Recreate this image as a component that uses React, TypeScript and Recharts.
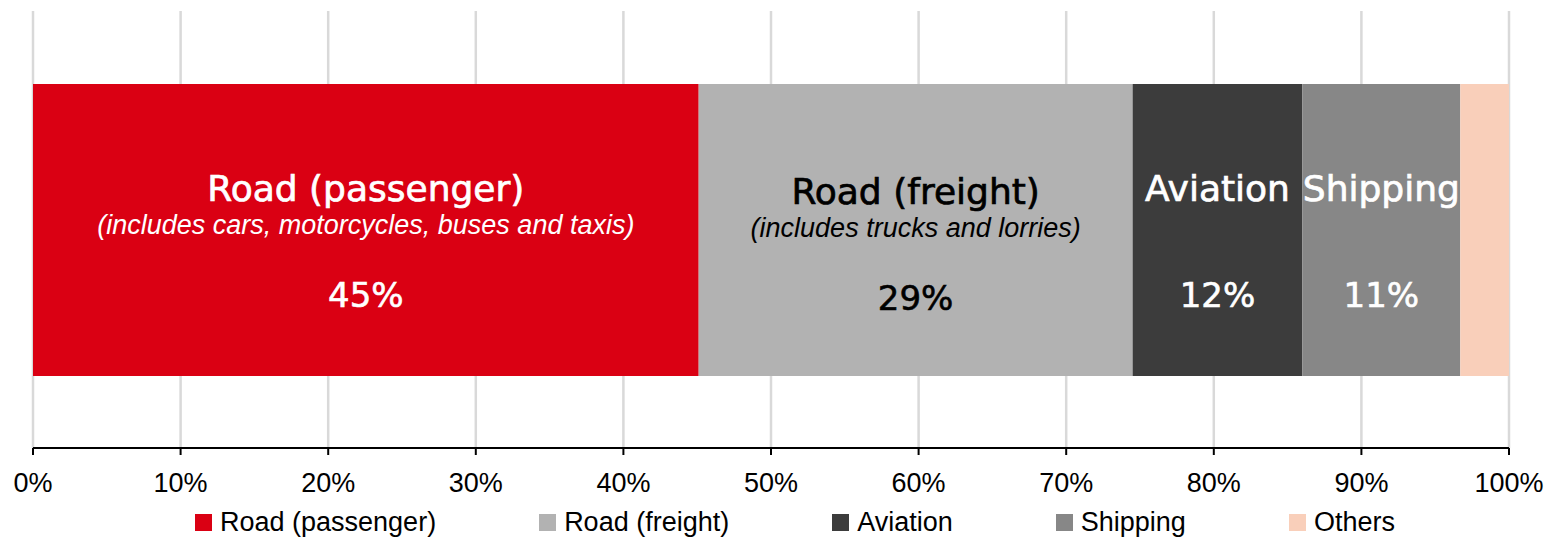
import React from 'react';
import { BarChart, Bar, XAxis, YAxis, CartesianGrid, Legend } from 'recharts';

// share of transport CO2 emissions, %
const categories = ['Road (passenger)', 'Road (freight)', 'Aviation', 'Shipping', 'Others'];
const shares = [45.1, 29.4, 11.5, 10.7, 3.3];
const notes = ['(includes cars, motorcycles, buses and taxis)', '(includes trucks and lorries)', '', '', ''];
const showLabel = [true, true, true, true, false];
const xTicks = [0, 10, 20, 30, 40, 50, 60, 70, 80, 90, 100];

const colors = ['#da0013', '#b2b2b2', '#3c3c3c', '#878787', '#f9cfba'];
const labelColors = ['#ffffff', '#000000', '#ffffff', '#ffffff', '#ffffff'];

const keys = categories.map((_, i) => `s${i}`);
const data = [
    Object.fromEntries([['name', 'Transport'], ...shares.map((v, i) => [keys[i], v])]),
];

const TEXT_FONT = '"DejaVu Sans", Verdana, sans-serif';
const AXIS_FONT = '"Liberation Sans", Arial, sans-serif';

function segmentLabel(i: number) {
    return (props: any) => {
        if (!showLabel[i]) return null;
        const cx = Number(props.x) + Number(props.width) / 2;
        const top = Number(props.y);
        const shift = i === 1 ? 3 : 0;
        const fill = labelColors[i];
        return (
            <g>
                <text x={cx} y={top + 104 + shift} textAnchor="middle" dominantBaseline="central"
                    fill={fill} stroke={fill} strokeWidth={0.7} fontSize={36} fontFamily={TEXT_FONT}>
                    {categories[i]}
                </text>
                {notes[i] ? (
                    <text x={cx} y={top + 141 + shift} textAnchor="middle" dominantBaseline="central"
                        fill={fill} fontSize={27} fontStyle="italic" fontFamily={AXIS_FONT}>
                        {notes[i]}
                    </text>
                ) : null}
                <text x={cx} y={top + 211 + shift} textAnchor="middle" dominantBaseline="central"
                    fill={fill} stroke={fill} strokeWidth={0.6} fontSize={34} fontFamily={TEXT_FONT}>
                    {`${Math.round(shares[i])}%`}
                </text>
            </g>
        );
    };
}

// legend kept in series order (the default payload comes out sorted by name)
function LegendRow() {
    return (
        <div style={{ height: 36, display: 'flex', alignItems: 'center', paddingLeft: 195, fontFamily: AXIS_FONT }}>
            {categories.map((c, i) => (
                <div key={c} style={{ display: 'flex', alignItems: 'center', marginRight: 103 }}>
                    <span style={{ display: 'inline-block', width: 17, height: 17, background: colors[i], marginRight: 8 }} />
                    <span style={{ fontSize: 27, color: '#000', whiteSpace: 'nowrap' }}>{c}</span>
                </div>
            ))}
        </div>
    );
}

export default function App() {
    return (
        <div style={{ width: 1549, height: 540, background: '#fff' }}>
            <style>{'body{margin:0;}'}</style>
            <BarChart
                width={1549}
                height={540}
                data={data}
                layout="vertical"
                margin={{ top: 11, right: 40, left: 33, bottom: 0 }}
            >
                <CartesianGrid horizontal={false} vertical={true} stroke="#d9d9d9" strokeWidth={2.5} />
                <XAxis
                    type="number"
                    domain={[0, 100]}
                    ticks={xTicks}
                    interval={0}
                    tickFormatter={(v) => `${v}%`}
                    height={56}
                    tickSize={7}
                    tickMargin={18}
                    axisLine={{ stroke: '#000', strokeWidth: 2 }}
                    tickLine={{ stroke: '#000', strokeWidth: 2 }}
                    tick={{ fontSize: 27, fill: '#000', fontFamily: AXIS_FONT }}
                />
                <YAxis type="category" dataKey="name" hide />
                <Legend
                    verticalAlign="bottom"
                    content={<LegendRow />}
                    wrapperStyle={{ left: 0, width: 1549 }}
                />
                {keys.map((k, i) => (
                    <Bar
                        key={k}
                        dataKey={k}
                        name={categories[i]}
                        stackId="share"
                        fill={colors[i]}
                        barSize={292}
                        isAnimationActive={false}
                        label={segmentLabel(i)}
                    />
                ))}
            </BarChart>
        </div>
    );
}
